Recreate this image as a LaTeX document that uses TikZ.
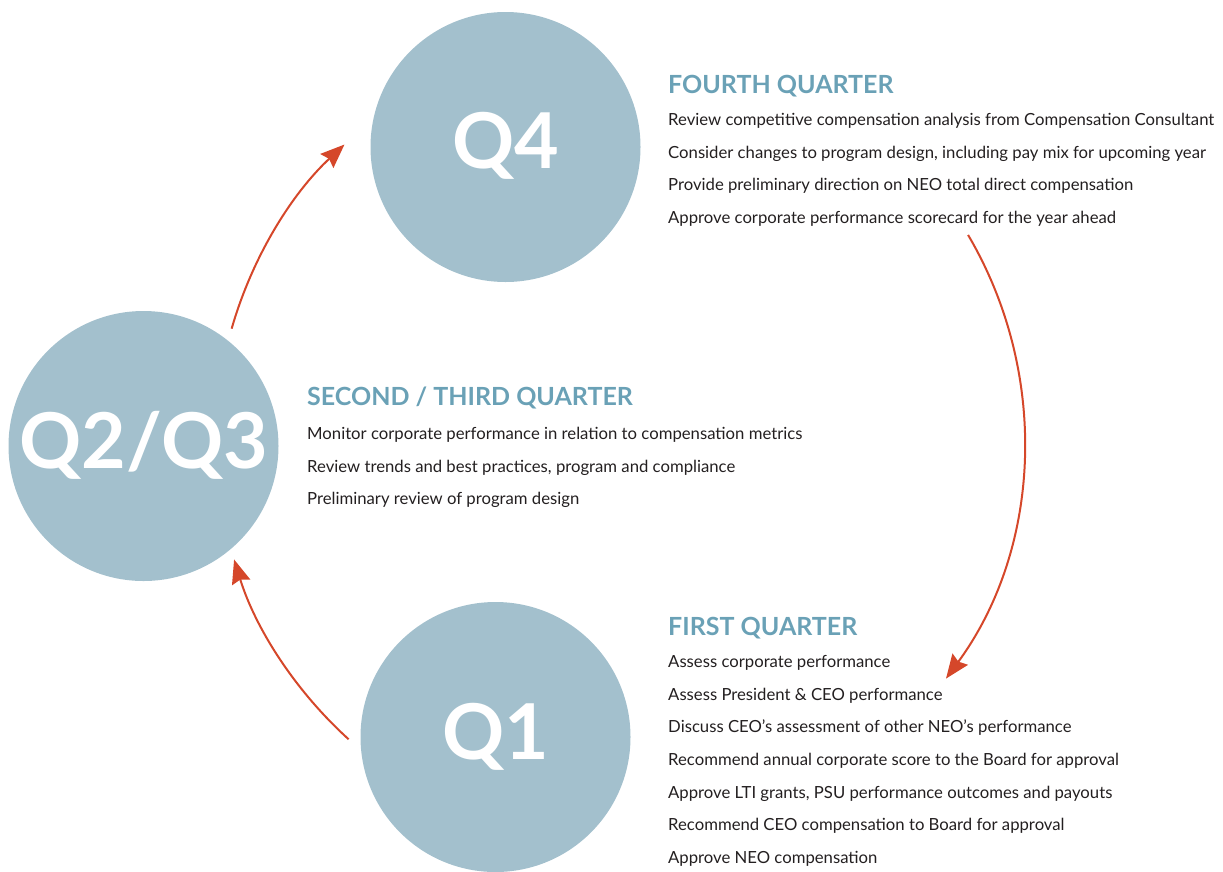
\documentclass[tikz,border=0pt]{standalone}
\usepackage{xcolor}
\usepackage{fontspec}
\setmainfont{Lato}
\usepackage{tikz}
\usetikzlibrary{positioning,arrows.meta,calc}

\definecolor{quartfill}{HTML}{A3C0CD}
\definecolor{quarthead}{HTML}{6AA1B6}
\definecolor{flowred}{HTML}{D5472A}
\definecolor{bodytext}{HTML}{231F20}

\tikzset{
    quarter/.style={circle, fill=quartfill, minimum size=270pt, inner sep=0pt},
    qlabel/.style={anchor=base, inner sep=0pt, text=white, font=\fontsize{77}{77}\selectfont\bfseries},
    head/.style={anchor=base west, inner sep=0pt, text=quarthead, font=\fontsize{25}{25}\selectfont\bfseries},
    item/.style={anchor=base west, inner sep=0pt, text=bodytext, font=\fontsize{16.7}{20}\selectfont},
    flow/.style={draw=flowred, line width=2pt, -{Stealth[length=24pt, width=19pt, inset=3pt]}}
}

\begin{document}
\begin{tikzpicture}[x=1pt, y=-1pt]
    \useasboundingbox (0,0) rectangle (1223,871);

    % the three quarter discs
    \node[quarter] (q4) at (505.5,147) {};
    \node[quarter] (q23) at (143.5,446) {};
    \node[quarter] (q1) at (495.5,737) {};
    \node[qlabel] (q4t) at ($(q4.center)+(0,21)$) {Q4};
    \node[qlabel] (q23t) at ($(q23.center)+(0,22)$) {Q2/Q3};
    \node[qlabel] (q1t) at ($(q1.center)+(0,22)$) {Q1};

    % arrows run round one big circle
    \coordinate (hub) at (620,440);
    \coordinate (f23) at ($(hub)+(196:404)$);
    \coordinate (f4) at ($(hub)+(-30.5:404)$);
    \coordinate (f1) at ($(hub)+(132.2:404)$);
    \draw[flow] (f23) arc[start angle=196, end angle=227, radius=404];
    \draw[flow] (f4) arc[start angle=-30.5, end angle=36.2, radius=404];
    \draw[flow] (f1) arc[start angle=132.2, end angle=162.8, radius=404];

    % fourth quarter
    \node[head] (h4) at (668,93) {FOURTH QUARTER};
    \foreach \txt [count=\i] in {Review competitive compensation analysis from Compensation Consultant,
        {Consider changes to program design, including pay mix for upcoming year},
        Provide preliminary direction on NEO total direct compensation,
        Approve corporate performance scorecard for the year ahead}
        \node[item] (h4l\i) at ($(h4.base west)+(0,32.5*\i)$) {\txt};

    % second / third quarter
    \node[head] (h23) at (307,405) {SECOND / THIRD QUARTER};
    \foreach \txt [count=\i] in {Monitor corporate performance in relation to compensation metrics,
        {Review trends and best practices, program and compliance},
        Preliminary review of program design}
        \node[item] (h23l\i) at ($(h23.base west)+(0,32.5*\i+2)$) {\txt};

    % first quarter
    \node[head] (h1) at (668,635) {FIRST QUARTER};
    \foreach \txt [count=\i] in {Assess corporate performance,
        Assess President \& CEO performance,
        Discuss CEO’s assessment of other NEO’s performance,
        Recommend annual corporate score to the Board for approval,
        {Approve LTI grants, PSU performance outcomes and payouts},
        Recommend CEO compensation to Board for approval,
        Approve NEO compensation}
        \node[item] (h1l\i) at ($(h1.base west)+(0,32.6*\i)$) {\txt};
\end{tikzpicture}
\end{document}
